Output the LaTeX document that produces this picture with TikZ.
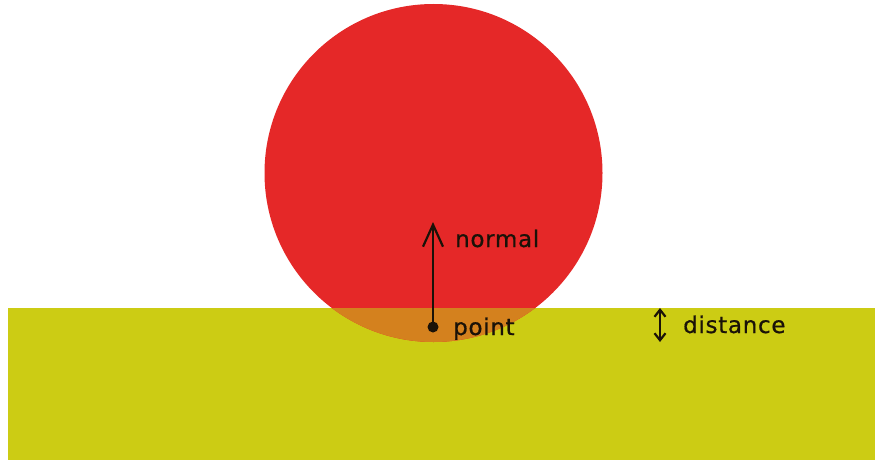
\documentclass[tikz,border=0pt]{standalone}
\usepackage{fontspec}
\setmainfont{DejaVu Sans}
\definecolor{BallRed}{HTML}{E52828}
\definecolor{GroundOlive}{HTML}{CCCC14}
\definecolor{HitOrange}{HTML}{D4811E}
\definecolor{InkDark}{HTML}{1A1208}
\usetikzlibrary{arrows.meta}
\tikzset{
  lbl/.style={anchor=base west, inner sep=0pt, text=InkDark,
    font=\fontsize{23}{27}\selectfont\addfontfeatures{LetterSpace=3,FakeBold=0.6}},
  vecarr/.style={-{Straight Barb[length=22pt,width=20pt]}, line width=2.2pt, InkDark},
  distarr/.style={{Straight Barb[length=7pt,width=11pt]}-{Straight Barb[length=7pt,width=11pt]}, line width=2.2pt, InkDark}
}

\begin{document}
\begin{tikzpicture}[x=1pt, y=-1pt]
\useasboundingbox (0,0) rectangle (875,460);
% ground and ball
\fill[GroundOlive] (8,308) coordinate (gnw) rectangle (875,460) coordinate (gse);
\coordinate (ballc) at (433.5,173);
\fill[BallRed] (ballc) circle (169pt);
\begin{scope}
  \clip (ballc) circle (169pt);
  \fill[HitOrange] (gnw) rectangle (gse);
\end{scope}
% contact point and normal
\coordinate (point) at (433,327);
\coordinate (tip) at (433,222);
\draw[vecarr] (point) -- (tip);
\fill[InkDark] (point) circle (5.5pt);
\node[lbl] (normallbl) at (455,247) {normal};
\node[lbl] (pointlbl) at (453,335) {point};
% distance
\coordinate (dtop) at (660,308);
\coordinate (dbot) at (660,342);
\draw[distarr] (dbot) -- (dtop);
\node[lbl] (distlbl) at (683,333) {distance};
\end{tikzpicture}
\end{document}
